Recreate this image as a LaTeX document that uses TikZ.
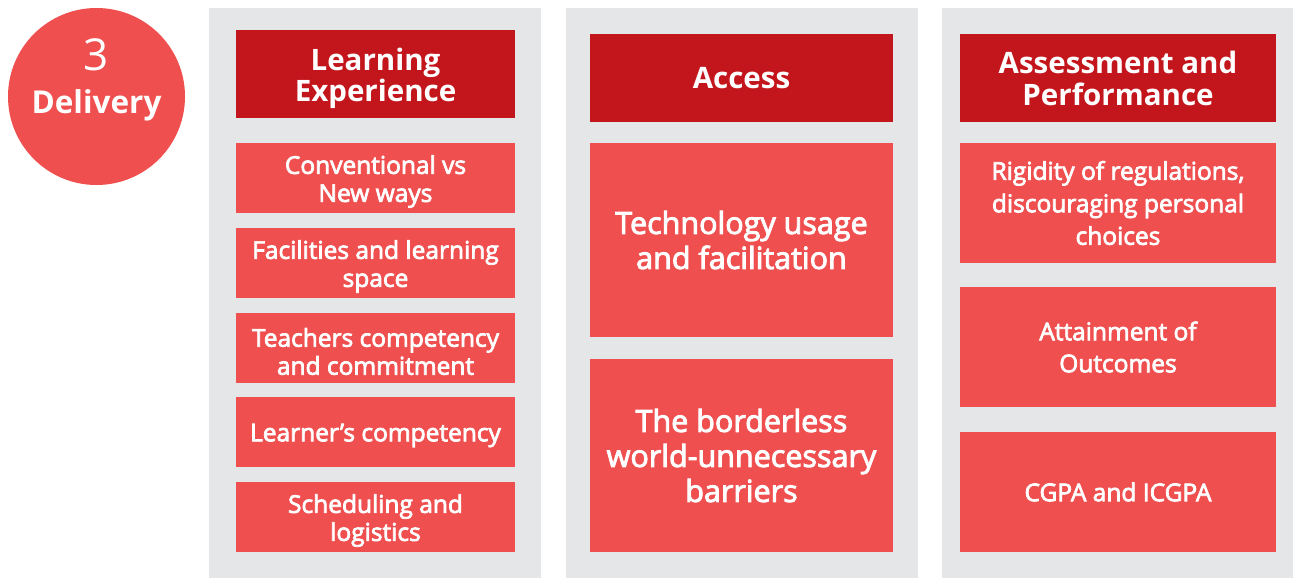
\documentclass[tikz,border=0pt]{standalone}
\usepackage{fontspec}
\setmainfont{Open Sans}
\newfontfamily\semifont[FakeBold=3]{Open Sans}
\usetikzlibrary{positioning}

\definecolor{darkred}{HTML}{C3161C}
\definecolor{lightred}{HTML}{EF4F4F}
\definecolor{panelgray}{HTML}{E5E6E8}

\tikzset{
	head/.style = {fill=darkred, text=white, inner sep=0pt, align=center,
		minimum height=87pt, font=\bfseries\fontsize{29.5}{32}\selectfont},
	item/.style = {fill=lightred, text=white, inner sep=0pt, align=center,
		font=\semifont\fontsize{24.5}{28}\selectfont},
	itemtext/.style = {text=white, inner sep=0pt, align=center,
		font=\semifont\fontsize{24.5}{28}\selectfont},
	panel/.style = {fill=panelgray}
}

\begin{document}
\begin{tikzpicture}[x=1pt, y=-1pt]
	\useasboundingbox (0,0) rectangle (1293,578);

	% grey columns
	\fill[panel] (209,8) rectangle (541,578);
	\fill[panel] (566,8) rectangle (918,578);
	\fill[panel] (942,8) rectangle (1293,578);

	% delivery badge
	\node[circle, fill=lightred, minimum size=177pt, inner sep=0pt] (badge) at (96.5,96.5) {};
	\node[text=white, font=\fontsize{44}{44}\selectfont] (num) at (96.5,55) {3};
	\node[text=white, font=\bfseries\fontsize{31.5}{32}\selectfont] (deliv) at (96.5,105) {Delivery};

	% learning experience (boxes first, text a little lower)
	\node[head, minimum width=279pt] (learn) at (375.5,74) {};
	\node[item, minimum width=279pt, minimum height=70pt] (conv) at (375.5,178) {};
	\node[item, minimum width=279pt, minimum height=70pt] (facil) at (375.5,263) {};
	\node[item, minimum width=279pt, minimum height=70pt] (teach) at (375.5,348) {};
	\node[item, minimum width=279pt, minimum height=70pt] (learner) at (375.5,432) {};
	\node[item, minimum width=279pt, minimum height=70pt] (sched) at (375.5,517) {};

	\node[itemtext, font=\bfseries\fontsize{29.5}{31}\selectfont] (learntxt) at ([yshift=-4pt]learn.center) {Learning\\Experience};
	\node[itemtext] (convtxt) at ([yshift=-3.5pt]conv.center) {Conventional vs\\New ways};
	\node[itemtext] (faciltxt) at ([yshift=-3.5pt]facil.center) {Facilities and learning\\space};
	\node[itemtext] (teachtxt) at ([yshift=-3.5pt]teach.center) {Teachers competency\\and commitment};
	\node[itemtext] (learnertxt) at ([yshift=-3.5pt]learner.center) {Learner’s competency};
	\node[itemtext] (schedtxt) at ([yshift=-3.5pt]sched.center) {Scheduling and\\logistics};

	% access
	\node[head, minimum width=303pt] (access) at (741.5,78) {Access};
	\node[item, minimum width=303pt, minimum height=194pt,
		font=\semifont\fontsize{30.5}{35}\selectfont] (tech) at (741.5,240) {Technology usage\\and facilitation};
	\node[item, minimum width=303pt, minimum height=193pt,
		font=\semifont\fontsize{30.5}{35}\selectfont] (border) at (741.5,455.5) {The borderless\\world-unnecessary\\barriers};

	% assessment and performance
	\node[head, minimum width=316pt] (assess) at (1118,78) {Assessment and\\Performance};
	\node[item, minimum width=316pt, minimum height=120pt,
		font=\semifont\fontsize{24.5}{32.5}\selectfont] (rigid) at (1118,203) {Rigidity of regulations,\\discouraging personal\\choices};
	\node[item, minimum width=316pt, minimum height=120pt,
		font=\semifont\fontsize{24.5}{32}\selectfont] (attain) at (1118,347) {Attainment of\\Outcomes};
	\node[item, minimum width=316pt, minimum height=120pt,
		font=\semifont\fontsize{24.5}{32}\selectfont] (cgpa) at (1118,492) {CGPA and ICGPA};
\end{tikzpicture}
\end{document}
